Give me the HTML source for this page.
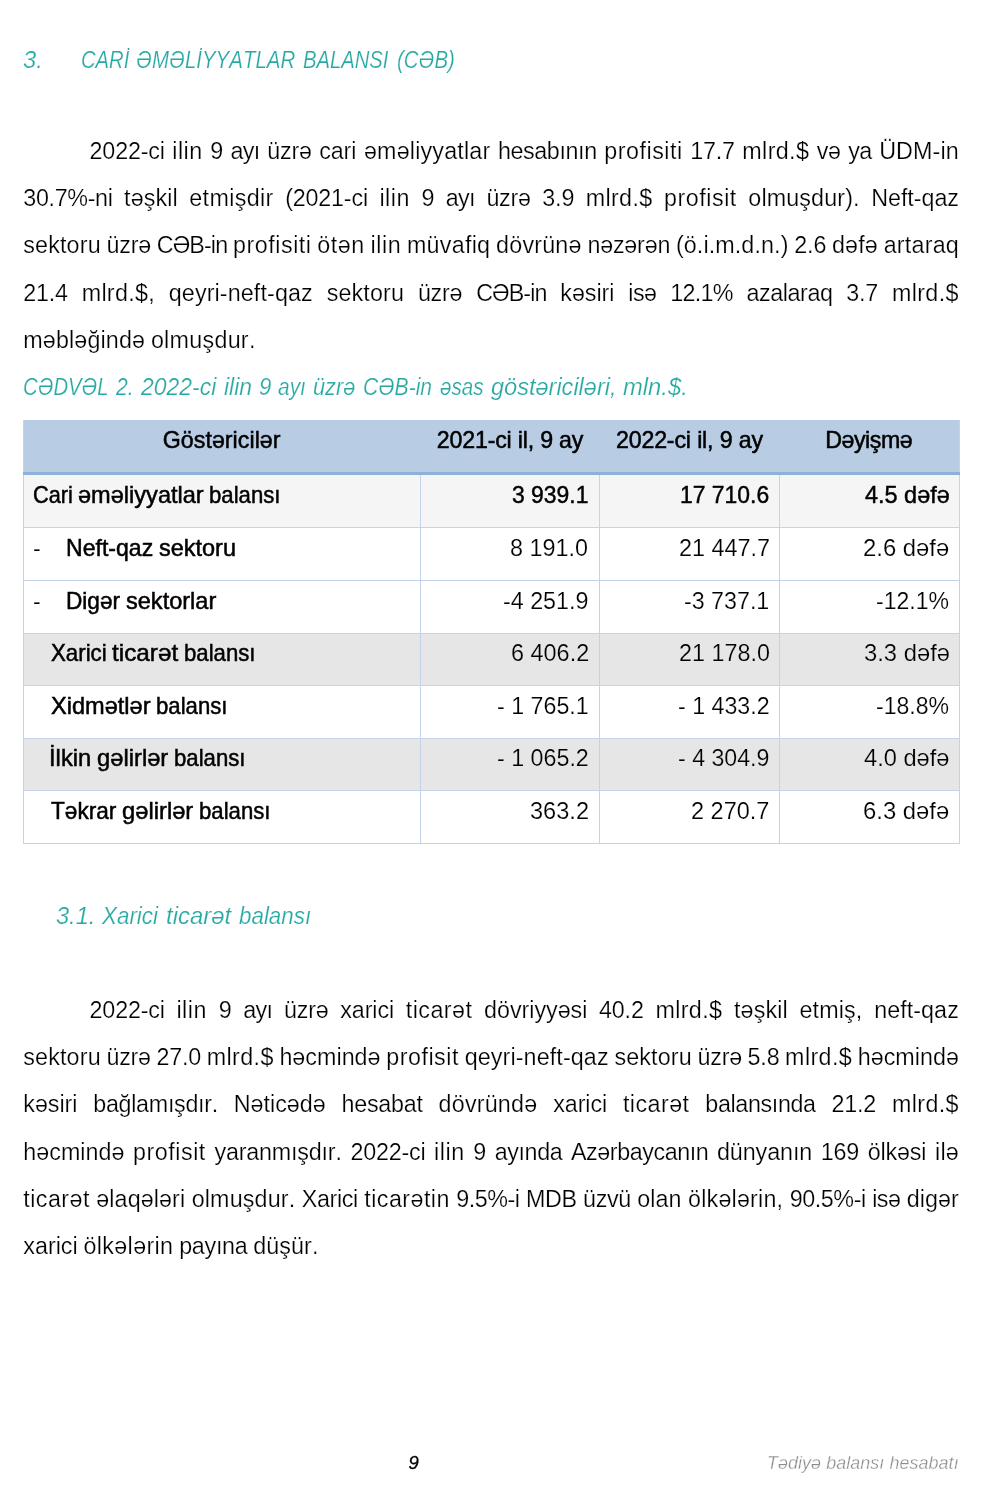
<!DOCTYPE html>
<html lang="az"><head><meta charset="utf-8"><title>Tədiyə balansı hesabatı</title>
<style>
html,body{margin:0;padding:0;background:#fff;}
body{width:1000px;height:1504px;position:relative;overflow:hidden;font-family:"Liberation Sans",sans-serif;color:#000;font-kerning:none;font-variant-ligatures:none;}
#pg{position:absolute;left:0;top:0;width:1000px;height:1504px;will-change:transform;filter:blur(0.35px);}
h1,h2,p,footer,.tbl{margin:0;padding:0;font-size:inherit;font-weight:normal;display:block;position:static;}
.t{position:absolute;white-space:nowrap;line-height:1;margin:0;padding:0;transform-origin:0 0;}
.w{display:inline-block;transform-origin:0 50%;}
.b{font-size:23.3px;-webkit-text-stroke:0.22px #fff;}
.h{font-size:23.0px;font-style:italic;color:#26a9a3;-webkit-text-stroke:0.2px #fff;}
.c{font-size:23.3px;font-style:italic;color:#26a9a3;-webkit-text-stroke:0.2px #fff;}
.sh{font-size:23.6px;font-style:italic;color:#26a9a3;-webkit-text-stroke:0.2px #fff;}
.pn{font-size:18.5px;font-style:italic;-webkit-text-stroke:0.3px #000;}
.ft{font-size:17.9px;font-style:italic;color:#8c8c8c;-webkit-text-stroke:0.3px #fff;}
.bx{position:absolute;}
.th{font-size:23.2px;-webkit-text-stroke:0.5px #000;}
.tl{font-size:23.2px;-webkit-text-stroke:0.5px #000;}
.tnb{font-size:23.2px;-webkit-text-stroke:0.45px #000;}
.tn{font-size:23.2px;-webkit-text-stroke:0.18px #fff;}
.tn.g{-webkit-text-stroke-color:#e6e6e6;}
</style></head><body><div id="pg">

<h1>
<span class="t h" style="top:48.73px;left:22.98px;transform:scaleX(1.0317);">3.</span>
<span class="t h" style="top:48.73px;left:81.40px;transform:scaleX(0.8796);">CARİ</span>
<span class="t h" style="top:48.73px;left:135.79px;transform:scaleX(0.8898);">ƏMƏLİYYATLAR</span>
<span class="t h" style="top:48.73px;left:303.09px;transform:scaleX(0.8786);">BALANSI</span>
<span class="t h" style="top:48.73px;left:397.21px;transform:scaleX(0.8869);">(CƏB)</span>
</h1>
<p>
<span class="t b" style="left:89.60px;top:139.68px;word-spacing:1.036px;"><span style="letter-spacing:-0.190px">2022-ci</span> <span style="letter-spacing:0.511px">ilin</span> <span style="letter-spacing:-0.222px">9</span> <span style="letter-spacing:-0.625px">ayı</span> <span style="letter-spacing:-0.225px">üzrə</span> <span style="letter-spacing:-0.081px">cari</span> <span style="letter-spacing:0.182px">əməliyyatlar</span> <span style="letter-spacing:-0.394px">hesabının</span> <span style="letter-spacing:0.522px">profisiti</span> <span style="letter-spacing:-0.189px">17.7</span> <span style="letter-spacing:0.368px">mlrd.$</span> <span style="letter-spacing:-0.368px">və</span> <span style="letter-spacing:-0.589px">ya</span> <span style="letter-spacing:0.141px">ÜDM-in</span></span>
<span class="t b" style="left:23.30px;top:186.98px;word-spacing:5.021px;"><span style="letter-spacing:-0.338px">30.7%-ni</span> <span style="letter-spacing:0.112px">təşkil</span> <span style="letter-spacing:0.353px">etmişdir</span> <span style="letter-spacing:-0.181px">(2021-ci</span> <span style="letter-spacing:0.511px">ilin</span> <span style="letter-spacing:-0.222px">9</span> <span style="letter-spacing:-0.625px">ayı</span> <span style="letter-spacing:-0.225px">üzrə</span> <span style="letter-spacing:-0.183px">3.9</span> <span style="letter-spacing:0.368px">mlrd.$</span> <span style="letter-spacing:0.512px">profisit</span> <span style="letter-spacing:0.130px">olmuşdur).</span> <span style="letter-spacing:-0.038px">Neft-qaz</span></span>
<span class="t b" style="left:23.30px;top:234.28px;word-spacing:-0.674px;"><span style="letter-spacing:0.149px">sektoru</span> <span style="letter-spacing:-0.225px">üzrə</span> <span style="letter-spacing:-0.895px">CƏB-in</span> <span style="letter-spacing:0.522px">profisiti</span> <span style="letter-spacing:0.518px">ötən</span> <span style="letter-spacing:0.511px">ilin</span> <span style="letter-spacing:0.256px">müvafiq</span> <span style="letter-spacing:0.192px">dövrünə</span> <span style="letter-spacing:-0.219px">nəzərən</span> <span style="letter-spacing:0.100px">(ö.i.m.d.n.)</span> <span style="letter-spacing:-0.183px">2.6</span> <span style="letter-spacing:0.143px">dəfə</span> <span style="letter-spacing:0.212px">artaraq</span></span>
<span class="t b" style="left:23.30px;top:281.58px;word-spacing:7.338px;"><span style="letter-spacing:-0.189px">21.4</span> <span style="letter-spacing:0.287px">mlrd.$,</span> <span style="letter-spacing:0.117px">qeyri-neft-qaz</span> <span style="letter-spacing:0.149px">sektoru</span> <span style="letter-spacing:-0.225px">üzrə</span> <span style="letter-spacing:-0.895px">CƏB-in</span> <span style="letter-spacing:-0.047px">kəsiri</span> <span style="letter-spacing:-0.553px">isə</span> <span style="letter-spacing:-0.699px">12.1%</span> <span style="letter-spacing:-0.437px">azalaraq</span> <span style="letter-spacing:-0.183px">3.7</span> <span style="letter-spacing:0.368px">mlrd.$</span></span>
<span class="t b" style="left:23.30px;top:328.88px;word-spacing:-0.735px;"><span style="letter-spacing:0.138px">məbləğində</span> <span style="letter-spacing:0.273px">olmuşdur.</span></span>
</p>
<p class="caption">
<span class="t c" style="top:376.18px;left:23.31px;transform:scaleX(0.8702);">CƏDVƏL</span>
<span class="t c" style="top:376.18px;left:115.60px;transform:scaleX(0.9091);">2.</span>
<span class="t c" style="top:376.18px;left:141.00px;transform:scaleX(0.9857);">2022-ci</span>
<span class="t c" style="top:376.18px;left:223.51px;transform:scaleX(0.9852);">ilin</span>
<span class="t c" style="top:376.18px;left:258.69px;transform:scaleX(0.9532);">9</span>
<span class="t c" style="top:376.18px;left:278.05px;transform:scaleX(0.8983);">ayı</span>
<span class="t c" style="top:376.18px;left:312.87px;transform:scaleX(0.9333);">üzrə</span>
<span class="t c" style="top:376.18px;left:363.27px;transform:scaleX(0.9041);">CƏB-in</span>
<span class="t c" style="top:376.18px;left:439.94px;transform:scaleX(0.8854);">əsas</span>
<span class="t c" style="top:376.18px;left:491.30px;transform:scaleX(1.0099);">göstəriciləri,</span>
<span class="t c" style="top:376.18px;left:623.49px;transform:scaleX(1.0217);">mln.$.</span>
</p>
<div class="tbl" role="table">
<div class="bx" style="left:23px;top:420px;width:936.5px;height:53px;background:#b8cce4"></div>
<div class="bx" style="left:23px;top:473px;width:936.5px;height:54.5px;background:#f5f5f5"></div>
<div class="bx" style="left:23px;top:633px;width:936.5px;height:52.5px;background:#e6e6e6"></div>
<div class="bx" style="left:23px;top:738px;width:936.5px;height:52.5px;background:#e6e6e6"></div>
<div class="bx" style="left:23px;top:527px;width:936.5px;height:1px;background:#c5d3ea"></div>
<div class="bx" style="left:23px;top:580px;width:936.5px;height:1px;background:#c5d3ea"></div>
<div class="bx" style="left:23px;top:632.5px;width:936.5px;height:1px;background:#c5d3ea"></div>
<div class="bx" style="left:23px;top:685px;width:936.5px;height:1px;background:#c5d3ea"></div>
<div class="bx" style="left:23px;top:737.5px;width:936.5px;height:1px;background:#c5d3ea"></div>
<div class="bx" style="left:23px;top:790px;width:936.5px;height:1px;background:#c5d3ea"></div>
<div class="bx" style="left:23px;top:842.5px;width:936.5px;height:1px;background:#c5d3ea"></div>
<div class="bx" style="left:22.5px;top:420px;width:1px;height:423px;background:#c5d3ea"></div>
<div class="bx" style="left:419.5px;top:473px;width:1px;height:370px;background:#c5d3ea"></div>
<div class="bx" style="left:598.5px;top:473px;width:1px;height:370px;background:#c5d3ea"></div>
<div class="bx" style="left:778.5px;top:473px;width:1px;height:370px;background:#c5d3ea"></div>
<div class="bx" style="left:959px;top:420px;width:1px;height:423px;background:#c5d3ea"></div>
<div class="bx" style="left:23px;top:472.2px;width:936.5px;height:2.6px;background:#8fb0d9"></div>
<span class="t th" style="top:429.36px;left:162.75px;letter-spacing:0.045px;">Göstəricilər</span>
<span class="t th" style="top:429.36px;left:436.85px;letter-spacing:-0.197px;">2021-ci il, 9 ay</span>
<span class="t th" style="top:429.36px;left:615.95px;letter-spacing:-0.163px;">2022-ci il, 9 ay</span>
<span class="t th" style="top:429.36px;left:825.20px;letter-spacing:-0.442px;">Dəyişmə</span>
<span class="t tnb" style="top:483.76px;left:512.21px;transform:scaleX(0.9887);">3 939.1</span>
<span class="t tnb" style="top:483.76px;left:680.37px;transform:scaleX(0.9874);">17 710.6</span>
<span class="t tnb" style="top:483.76px;left:864.79px;transform:scaleX(1.0116);">4.5 dəfə</span>
<span class="t tn" style="top:536.86px;left:33.00px;">-</span>
<span class="t tn" style="top:536.86px;left:510.49px;transform:scaleX(1.0079);">8 191.0</span>
<span class="t tn" style="top:536.86px;left:678.64px;transform:scaleX(1.0097);">21 447.7</span>
<span class="t tn" style="top:536.86px;left:863.31px;transform:scaleX(1.0294);">2.6 dəfə</span>
<span class="t tn" style="top:589.76px;left:33.00px;">-</span>
<span class="t tn" style="top:589.76px;left:503.30px;transform:scaleX(1.0036);">-4 251.9</span>
<span class="t tn" style="top:589.76px;left:684.30px;transform:scaleX(1.0024);">-3 737.1</span>
<span class="t tn" style="top:589.76px;left:876.21px;transform:scaleX(0.9937);">-12.1%</span>
<span class="t tn g" style="top:642.26px;left:510.54px;transform:scaleX(1.0107);">6 406.2</span>
<span class="t tn g" style="top:642.26px;left:678.64px;transform:scaleX(1.0068);">21 178.0</span>
<span class="t tn g" style="top:642.26px;left:863.57px;transform:scaleX(1.0263);">3.3 dəfə</span>
<span class="t tn" style="top:694.76px;left:497.10px;transform:scaleX(1.0000);">- 1 765.1</span>
<span class="t tn" style="top:694.76px;left:678.20px;transform:scaleX(1.0006);">- 1 433.2</span>
<span class="t tn" style="top:694.76px;left:876.21px;transform:scaleX(0.9937);">-18.8%</span>
<span class="t tn g" style="top:747.26px;left:497.10px;transform:scaleX(1.0028);">- 1 065.2</span>
<span class="t tn g" style="top:747.26px;left:678.20px;transform:scaleX(0.9978);">- 4 304.9</span>
<span class="t tn g" style="top:747.26px;left:864.09px;transform:scaleX(1.0201);">4.0 dəfə</span>
<span class="t tn" style="top:799.76px;left:529.88px;transform:scaleX(1.0170);">363.2</span>
<span class="t tn" style="top:799.76px;left:691.23px;transform:scaleX(1.0133);">2 270.7</span>
<span class="t tn" style="top:799.76px;left:863.31px;transform:scaleX(1.0294);">6.3 dəfə</span>
<span class="t tl" style="left:32.65px;top:483.76px;word-spacing:-0.798px;"><span class="w" style="transform:scaleX(0.9351);margin-right:-2.757px">Cari</span> <span class="w" style="transform:scaleX(1.0163);margin-right:2.014px">əməliyyatlar</span> <span class="w" style="transform:scaleX(0.9557);margin-right:-3.309px">balansı</span></span>
<span class="t tl" style="left:66.10px;top:536.86px;word-spacing:-0.798px;"><span class="w" style="transform:scaleX(0.9952);margin-right:-0.421px">Neft-qaz</span> <span class="w" style="transform:scaleX(1.0124);margin-right:0.943px">sektoru</span></span>
<span class="t tl" style="left:66.10px;top:589.76px;word-spacing:-0.798px;"><span class="w" style="transform:scaleX(0.9751);margin-right:-1.381px">Digər</span> <span class="w" style="transform:scaleX(1.0153);margin-right:1.361px">sektorlar</span></span>
<span class="t tl" style="left:50.50px;top:642.26px;word-spacing:-0.798px;"><span class="w" style="transform:scaleX(0.9608);margin-right:-2.271px">Xarici</span> <span class="w" style="transform:scaleX(1.0480);margin-right:3.030px">ticarət</span> <span class="w" style="transform:scaleX(0.9557);margin-right:-3.309px">balansı</span></span>
<span class="t tl" style="left:50.50px;top:694.76px;word-spacing:-0.798px;"><span class="w" style="transform:scaleX(1.0162);margin-right:1.586px">Xidmətlər</span> <span class="w" style="transform:scaleX(0.9557);margin-right:-3.309px">balansı</span></span>
<span class="t tl" style="left:49.25px;top:747.26px;word-spacing:-0.798px;"><span class="w" style="transform:scaleX(1.0248);margin-right:1.023px">İlkin</span> <span class="w" style="transform:scaleX(1.0244);margin-right:1.695px">gəlirlər</span> <span class="w" style="transform:scaleX(0.9557);margin-right:-3.309px">balansı</span></span>
<span class="t tl" style="left:50.50px;top:799.76px;word-spacing:-0.798px;"><span class="w" style="transform:scaleX(0.9760);margin-right:-1.607px">Təkrar</span> <span class="w" style="transform:scaleX(1.0244);margin-right:1.695px">gəlirlər</span> <span class="w" style="transform:scaleX(0.9557);margin-right:-3.309px">balansı</span></span>
</div>
<h2>
<span class="t sh" style="top:904.62px;left:56.00px;transform:scaleX(1.0000);">3.1.</span>
<span class="t sh" style="top:904.62px;left:102.24px;transform:scaleX(0.9490);">Xarici</span>
<span class="t sh" style="top:904.62px;left:165.58px;transform:scaleX(1.0156);">ticarət</span>
<span class="t sh" style="top:904.62px;left:238.76px;transform:scaleX(0.9485);">balansı</span>
</h2>
<p>
<span class="t b" style="left:89.60px;top:998.68px;word-spacing:5.243px;"><span style="letter-spacing:-0.190px">2022-ci</span> <span style="letter-spacing:0.511px">ilin</span> <span style="letter-spacing:-0.222px">9</span> <span style="letter-spacing:-0.625px">ayı</span> <span style="letter-spacing:-0.225px">üzrə</span> <span style="letter-spacing:-0.082px">xarici</span> <span style="letter-spacing:0.447px">ticarət</span> <span style="letter-spacing:-0.031px">dövriyyəsi</span> <span style="letter-spacing:-0.189px">40.2</span> <span style="letter-spacing:0.368px">mlrd.$</span> <span style="letter-spacing:0.112px">təşkil</span> <span style="letter-spacing:0.129px">etmiş,</span> <span style="letter-spacing:0.067px">neft-qaz</span></span>
<span class="t b" style="left:23.30px;top:1045.98px;word-spacing:-0.805px;"><span style="letter-spacing:0.149px">sektoru</span> <span style="letter-spacing:-0.225px">üzrə</span> <span style="letter-spacing:-0.189px">27.0</span> <span style="letter-spacing:0.368px">mlrd.$</span> <span style="letter-spacing:0.019px">həcmində</span> <span style="letter-spacing:0.512px">profisit</span> <span style="letter-spacing:0.117px">qeyri-neft-qaz</span> <span style="letter-spacing:0.149px">sektoru</span> <span style="letter-spacing:-0.225px">üzrə</span> <span style="letter-spacing:-0.183px">5.8</span> <span style="letter-spacing:0.368px">mlrd.$</span> <span style="letter-spacing:0.019px">həcmində</span></span>
<span class="t b" style="left:23.30px;top:1093.28px;word-spacing:9.360px;"><span style="letter-spacing:-0.047px">kəsiri</span> <span style="letter-spacing:-0.290px">bağlamışdır.</span> <span style="letter-spacing:-0.017px">Nəticədə</span> <span style="letter-spacing:-0.230px">hesabat</span> <span style="letter-spacing:0.200px">dövründə</span> <span style="letter-spacing:-0.082px">xarici</span> <span style="letter-spacing:0.447px">ticarət</span> <span style="letter-spacing:-0.362px">balansında</span> <span style="letter-spacing:-0.189px">21.2</span> <span style="letter-spacing:0.368px">mlrd.$</span></span>
<span class="t b" style="left:23.30px;top:1140.58px;word-spacing:2.155px;"><span style="letter-spacing:0.019px">həcmində</span> <span style="letter-spacing:0.512px">profisit</span> <span style="letter-spacing:-0.184px">yaranmışdır.</span> <span style="letter-spacing:-0.190px">2022-ci</span> <span style="letter-spacing:0.511px">ilin</span> <span style="letter-spacing:-0.222px">9</span> <span style="letter-spacing:-0.379px">ayında</span> <span style="letter-spacing:-0.431px">Azərbaycanın</span> <span style="letter-spacing:-0.076px">dünyanın</span> <span style="letter-spacing:-0.211px">169</span> <span style="letter-spacing:-0.162px">ölkəsi</span> <span style="letter-spacing:0.248px">ilə</span></span>
<span class="t b" style="left:23.30px;top:1187.88px;word-spacing:-0.038px;"><span style="letter-spacing:0.447px">ticarət</span> <span style="letter-spacing:0.090px">əlaqələri</span> <span style="letter-spacing:0.158px">olmuşdur.</span> <span style="letter-spacing:-0.370px">Xarici</span> <span style="letter-spacing:0.443px">ticarətin</span> <span style="letter-spacing:-0.459px">9.5%-i</span> <span style="letter-spacing:-0.375px">MDB</span> <span style="letter-spacing:-0.374px">üzvü</span> <span style="letter-spacing:0.062px">olan</span> <span style="letter-spacing:0.206px">ölkələrin,</span> <span style="letter-spacing:-0.423px">90.5%-i</span> <span style="letter-spacing:-0.553px">isə</span> <span style="letter-spacing:0.059px">digər</span></span>
<span class="t b" style="left:23.30px;top:1235.18px;word-spacing:-0.735px;"><span style="letter-spacing:0.008px">xarici</span> <span style="letter-spacing:0.349px">ölkələrin</span> <span style="letter-spacing:-0.267px">payına</span> <span style="letter-spacing:0.081px">düşür.</span></span>
</p>
<footer>
<span class="t pn" style="top:1454.24px;left:408.55px;">9</span>
<span class="t ft" style="top:1454.85px;left:766.95px;letter-spacing:0.077px;">Tədiyə balansı hesabatı</span>
</footer>
</div></body></html>
